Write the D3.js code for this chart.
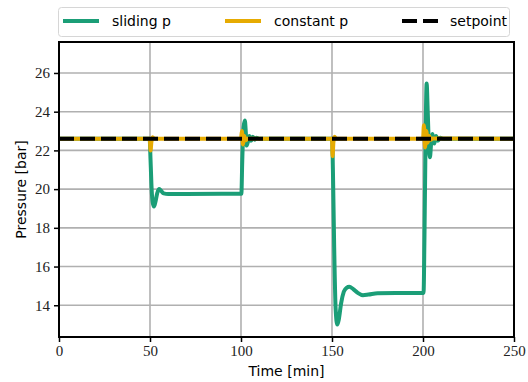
<!DOCTYPE html>
<html>
<head>
<meta charset="utf-8">
<script src="https://cdn.jsdelivr.net/npm/d3@7"></script>
<style>
  body { margin: 0; background: #fff; }
  .lbl { font-family: "DejaVu Sans", sans-serif; font-size: 14px; fill: #000; }
</style>
</head>
<body>
<svg id="chart" width="528" height="382"></svg>
<script>
// time [min] and pressure [bar]
var slidingT = [0, 49.8, 50.3, 50.9, 51.5, 52.2, 53.0, 54.0, 55.1, 56.2, 57.5, 60, 70, 100.2, 100.7, 101.4, 102.1, 102.6, 103.1, 103.8, 104.6, 105.5, 106.5, 107.5, 108.5, 110,
                150.1, 150.5, 151.2, 152.0, 152.9, 153.8, 155.0, 156.5, 158.0, 159.5, 161.5, 164, 167, 170, 175, 185, 200.3, 200.8, 201.4, 202.0, 202.6, 203.2, 203.8, 204.5, 205.3, 206.2, 207.2, 208.2, 209.5, 211, 250];
var slidingP = [22.6, 22.6, 21.5, 20.0, 19.3, 19.1, 19.35, 19.8, 20.0, 19.9, 19.78, 19.75, 19.75, 19.76, 21.5, 23.2, 23.55, 23.0, 22.25, 22.45, 22.75, 22.5, 22.7, 22.55, 22.65, 22.6,
                22.6, 21.0, 17.0, 13.8, 13.0, 13.3, 14.1, 14.7, 14.9, 14.95, 14.85, 14.65, 14.52, 14.55, 14.62, 14.63, 14.63, 17.5, 22.5, 25.45, 24.0, 22.3, 21.65, 22.4, 22.85, 22.35, 22.75, 22.5, 22.65, 22.6, 22.6];

var constantT = [0, 49.9, 50.3, 50.8, 51.4, 52.3, 100, 100.5, 101.1, 101.8, 102.6, 103.5, 150, 150.3, 150.8, 151.4, 152.3, 200, 200.5, 201.1, 201.8, 202.6, 203.4, 204.3, 205.3, 250];
var constantP = [22.6, 22.6, 22.0, 22.45, 22.68, 22.6, 22.6, 23.0, 22.3, 22.75, 22.52, 22.6, 22.6, 21.7, 22.45, 22.7, 22.6, 22.6, 23.3, 22.15, 23.0, 22.4, 22.75, 22.55, 22.62, 22.6];

var setpointT = [0, 250];
var setpointP = [22.6, 22.6];

var xTicks = [0, 50, 100, 150, 200, 250];
var yTicks = [14, 16, 18, 20, 22, 24, 26];

var legendItems = [
  {name: "sliding p", color: "#1b9e77", dash: null, x: 63, tx: 112},
  {name: "constant p", color: "#e6ab02", dash: null, x: 225, tx: 274},
  {name: "setpoint", color: "#000", dash: "15,6", x: 402, tx: 450}
];

var svg = d3.select("#chart");
var pLeft = 59, pRight = 514, pTop = 42, pBottom = 337;

var x = d3.scaleLinear().domain([0, 250]).range([pLeft, pRight]);
var y = d3.scaleLinear().domain([12.36, 27.6]).range([pBottom, pTop]);

// grid
svg.append("g").selectAll("line").data(xTicks.slice(1, -1)).enter().append("line")
  .attr("x1", d => x(d)).attr("x2", d => x(d)).attr("y1", pTop).attr("y2", pBottom)
  .attr("stroke", "#b0b0b0").attr("stroke-width", 1.6);
svg.append("g").selectAll("line").data(yTicks).enter().append("line")
  .attr("y1", d => y(d)).attr("y2", d => y(d)).attr("x1", pLeft).attr("x2", pRight)
  .attr("stroke", "#b0b0b0").attr("stroke-width", 1.6);

function toPts(t, p) { return t.map((d, i) => [d, p[i]]); }
var line = d3.line().x(d => x(d[0])).y(d => y(d[1])).curve(d3.curveMonotoneX);

var plot = svg.append("g");
plot.append("path").attr("d", line(toPts(slidingT, slidingP)))
  .attr("fill", "none").attr("stroke", "#1b9e77").attr("stroke-width", 4).attr("stroke-linejoin", "round");
plot.append("path").attr("d", line(toPts(constantT, constantP)))
  .attr("fill", "none").attr("stroke", "#e6ab02").attr("stroke-width", 4).attr("stroke-linejoin", "round");
plot.append("path").attr("d", line(toPts(setpointT, setpointP)))
  .attr("fill", "none").attr("stroke", "#000").attr("stroke-width", 4).attr("stroke-dasharray", "15,6");

// axes
var xAxis = svg.append("g").attr("transform", `translate(0,${pBottom})`)
  .call(d3.axisBottom(x).tickValues(xTicks).tickSize(5).tickPadding(3));
var yAxis = svg.append("g").attr("transform", `translate(${pLeft},0)`)
  .call(d3.axisLeft(y).tickValues(yTicks).tickSize(5).tickPadding(4));
[xAxis, yAxis].forEach(a => {
  a.select(".domain").remove();
  a.attr("font-family", null).attr("font-size", null);
  a.selectAll(".tick line").attr("stroke", "#000").attr("stroke-width", 1.5);
  a.selectAll(".tick text")
    .style("font-family", "'Liberation Serif', 'DejaVu Serif', serif")
    .style("font-size", "15px").style("fill", "#222");
});

svg.append("rect").attr("x", pLeft).attr("y", pTop).attr("width", pRight - pLeft).attr("height", pBottom - pTop)
  .attr("fill", "none").attr("stroke", "#000").attr("stroke-width", 2);

svg.append("text").attr("class", "lbl").attr("x", (pLeft + pRight) / 2).attr("y", 376)
  .attr("text-anchor", "middle").text("Time [min]");
svg.append("text").attr("class", "lbl")
  .attr("transform", `translate(26,${(pTop + pBottom) / 2}) rotate(-90)`)
  .attr("text-anchor", "middle").text("Pressure [bar]");

// legend
var lg = svg.append("g");
lg.append("rect").attr("x", 58.5).attr("y", 7.5).attr("width", 451).attr("height", 29).attr("rx", 3)
  .attr("fill", "#fff").attr("stroke", "#d6d6d6").attr("stroke-width", 1);
var li = lg.selectAll("g.item").data(legendItems).enter().append("g").attr("class", "item");
li.append("line").attr("x1", d => d.x).attr("x2", d => d.x + 36).attr("y1", 21).attr("y2", 21)
  .attr("stroke", d => d.color).attr("stroke-width", 4).attr("stroke-dasharray", d => d.dash);
li.append("text").attr("class", "lbl").attr("x", d => d.tx).attr("y", 26).text(d => d.name);
</script>
</body>
</html>
